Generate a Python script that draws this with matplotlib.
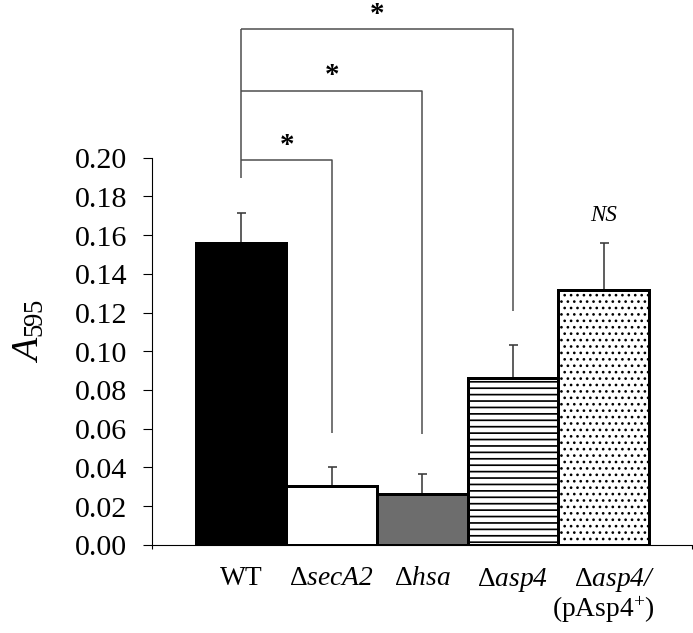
import matplotlib
matplotlib.use("Agg")
import matplotlib.pyplot as plt
import numpy as np

# ---------------- data ----------------
categories = [r"$\mathrm{WT}$", r"$\Delta\mathit{secA}\mathsf{2}$", r"$\Delta\mathit{hsa}$",
              r"$\Delta\mathit{asp}\mathsf{4}$",
              "$\\Delta\\mathit{asp}\\mathsf{4/}$\n$\\mathrm{(pAsp4^{+})}$"]
values = [0.156, 0.0305, 0.0265, 0.0861, 0.1318]
errors = [0.0155, 0.0098, 0.0099, 0.0171, 0.0241]
yticks = [0.00, 0.02, 0.04, 0.06, 0.08, 0.10, 0.12, 0.14, 0.16, 0.18, 0.20]
ytick_labels = ["%.2f" % v for v in yticks]
# significance brackets: (from bar, to bar, bracket height, bottom of right leg)
brackets = [(0, 1, 0.1990, 0.0577), (0, 2, 0.2346, 0.0572), (0, 3, 0.2665, 0.1206)]
wt_leg_bottom = 0.1897
star_heights = [0.2072, 0.2434, 0.2748]
ns_bar = 4
ns_height = 0.1703

# ---------------- style ----------------
DPI = 77
W, H = 693.4, 633.4


def P(px):
    return px * 72.0 / DPI


plt.rcParams["font.family"] = ["Liberation Serif", "DejaVu Serif"]
plt.rcParams["mathtext.fontset"] = "custom"
plt.rcParams["mathtext.rm"] = "Liberation Serif"
plt.rcParams["mathtext.it"] = "Liberation Serif:italic"
plt.rcParams["mathtext.sf"] = "Liberation Serif:italic"
plt.rcParams["mathtext.bf"] = "Liberation Serif:bold"

fig = plt.figure(figsize=(W / DPI, H / DPI), dpi=DPI)
ax = fig.add_axes([152 / 693, 1 - 545 / 633, (692 - 152) / 693, (545 - 158) / 633])

x = np.arange(len(values))
faces = ["black", "white", "#6d6d6d", "white", "white"]
hatches = [None, None, None, "--", ".."]
hatch_lw = [1.0, 1.0, 1.0, 1.6, 1.3]

for i in range(len(values)):
    with plt.rc_context({"hatch.linewidth": hatch_lw[i], "hatch.color": "black"}):
        bc = ax.bar(x[i], values[i], width=1.0, color=faces[i], edgecolor="black",
                    linewidth=P(3.0), hatch=hatches[i], zorder=3)
        for p in bc.patches:
            if hasattr(p, "set_hatch_linewidth"):
                p.set_hatch_linewidth(hatch_lw[i])

ax.errorbar(x, values, yerr=[np.zeros(len(errors)), errors], fmt="none",
            ecolor="#3a3a3a", elinewidth=P(1.6), capsize=P(4.5), capthick=P(1.6), zorder=2)

ax.set_xlim(-0.98, 4.98)
ax.set_ylim(0, 0.20)
ax.set_yticks(yticks)
ax.set_yticklabels(ytick_labels)
ax.set_xticks(x)
ax.set_xticklabels(categories, linespacing=1.0, multialignment="right")
ax.set_xticks([-0.98, 4.98], minor=True)

for s in ["top", "right"]:
    ax.spines[s].set_visible(False)
for s in ["left", "bottom"]:
    ax.spines[s].set_linewidth(P(1.1))
    ax.spines[s].set_color("black")

ax.tick_params(axis="y", direction="out", length=P(9), width=P(1.1), pad=P(16),
               labelsize=P(30))
ax.tick_params(axis="x", which="major", length=0, pad=P(21), labelsize=P(27.5))
ax.tick_params(axis="x", which="minor", direction="out", length=P(4), width=P(1.1))

# y label
fig.text(29 / 693, 1 - 331 / 633, r"$A_{595}$", rotation=90, ha="center", va="center",
         fontsize=P(38))

# brackets
bcol = "#4a4a4a"
blw = P(1.5)
ax.plot([x[0], x[0]], [wt_leg_bottom, brackets[-1][2]], color=bcol, lw=blw,
        clip_on=False, zorder=1, solid_capstyle="butt")
for (a, b, h, bottom) in brackets:
    ax.plot([x[a], x[b], x[b]], [h, h, bottom], color=bcol, lw=blw, clip_on=False,
            zorder=1, solid_capstyle="butt")

for (a, b, h, bottom), sh in zip(brackets, star_heights):
    ax.text((x[a] + x[b]) / 2, sh, r"$\mathbf{*}$", ha="center", va="center",
            fontsize=P(29), clip_on=False)

ax.text(x[ns_bar], ns_height, "NS", ha="center", va="center", fontsize=P(23),
        fontstyle="italic", clip_on=False)

fig.savefig("out.png", dpi=DPI)
